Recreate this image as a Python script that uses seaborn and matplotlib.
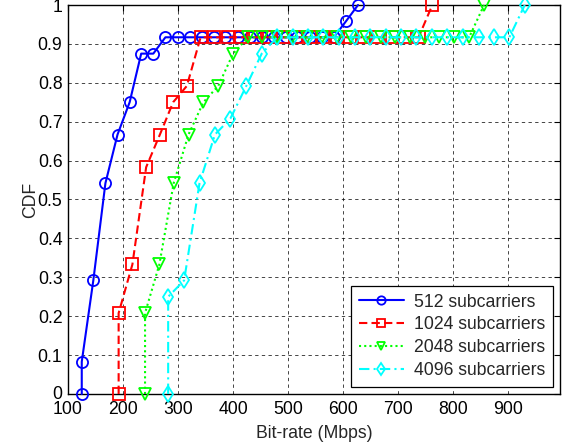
import matplotlib
matplotlib.use("Agg")
import matplotlib.pyplot as plt
import matplotlib.transforms as mtransforms
import seaborn as sns
import pandas as pd

sns.set_theme(style="white")
plt.rcParams['font.family'] = ['Liberation Sans', 'DejaVu Sans']

series_labels = ["512 subcarriers", "1024 subcarriers", "2048 subcarriers", "4096 subcarriers"]

x_512 = [125, 125, 146, 168, 190, 212, 233, 255, 277, 299, 321, 343, 365, 386, 408,
         430, 452, 474, 496, 517, 539, 561, 583, 605, 627]
y_512 = [0, 0.083, 0.292, 0.542, 0.667, 0.75, 0.875, 0.875, 0.917, 0.917, 0.917, 0.917,
         0.917, 0.917, 0.917, 0.917, 0.917, 0.917, 0.917, 0.917, 0.917, 0.917, 0.917,
         0.958, 1.0]

x_1024 = [192, 192, 217, 242, 267, 291, 316, 341, 366, 390, 415, 440, 465, 490, 514,
          539, 564, 589, 613, 638, 663, 688, 712, 737, 762]
y_1024 = [0, 0.208, 0.333, 0.583, 0.667, 0.75, 0.792, 0.917, 0.917, 0.917, 0.917, 0.917,
          0.917, 0.917, 0.917, 0.917, 0.917, 0.917, 0.917, 0.917, 0.917, 0.917, 0.917,
          0.917, 1.0]

x_2048 = [240, 240, 266, 292, 319, 346, 373, 400, 427, 453, 480, 507, 534, 561, 588,
          614, 641, 668, 695, 722, 749, 775, 802, 829, 856]
y_2048 = [0, 0.208, 0.333, 0.542, 0.667, 0.75, 0.792, 0.875, 0.917, 0.917, 0.917, 0.917,
          0.917, 0.917, 0.917, 0.917, 0.917, 0.917, 0.917, 0.917, 0.917, 0.917, 0.917,
          0.917, 1.0]

x_4096 = [282, 282, 311, 339, 367, 395, 424, 452, 480, 508, 536, 564, 592, 621, 649,
          677, 705, 733, 761, 789, 818, 846, 874, 902, 930]
y_4096 = [0, 0.25, 0.292, 0.542, 0.667, 0.708, 0.792, 0.875, 0.917, 0.917, 0.917, 0.917,
          0.917, 0.917, 0.917, 0.917, 0.917, 0.917, 0.917, 0.917, 0.917, 0.917, 0.917,
          0.917, 1.0]

x_ticks = [100, 200, 300, 400, 500, 600, 700, 800, 900]
y_ticks = [0, 0.1, 0.2, 0.3, 0.4, 0.5, 0.6, 0.7, 0.8, 0.9, 1]
y_tick_labels = ["0", "0.1", "0.2", "0.3", "0.4", "0.5", "0.6", "0.7", "0.8", "0.9", "1"]

xs = [x_512, x_1024, x_2048, x_4096]
ys = [y_512, y_1024, y_2048, y_4096]
colors = [(0, 0, 1), (1, 0, 0), (0, 1, 0), (0, 1, 1)]
markers = ["o", "s", "v", "d"]
styles = ["-", (0, (4, 2)), (0, (1, 1.5)), (0, (5, 2, 1, 2))]

FS = 12.7

fig = plt.figure(figsize=(5.74, 4.48), dpi=100)
ax = fig.add_axes([68 / 574, 1 - 394 / 448, (560 - 68) / 574, (394 - 5) / 448])

for lab, x, y, c, m, ls in zip(series_labels, xs, ys, colors, markers, styles):
    df = pd.DataFrame({"x": x, "y": y})
    sns.lineplot(data=df, x="x", y="y", ax=ax, estimator=None, sort=False,
                 color=c, marker=m, markersize=8, markerfacecolor="none",
                 markeredgecolor=c, markeredgewidth=1.3, linewidth=1.5,
                 linestyle=ls, label=lab, zorder=3, clip_on=False)

ax.set_xlim(100, 994)
ax.set_ylim(0, 1)
ax.set_xticks(x_ticks)
ax.set_xticklabels([str(t) for t in x_ticks])
ax.set_yticks(y_ticks)
ax.set_yticklabels(y_tick_labels)
ax.grid(True, color="black", linestyle=(0, (4, 4)), linewidth=0.6, alpha=0.85)
ax.set_axisbelow(True)
ax.tick_params(direction="in", length=4, width=0.8, top=True, right=True,
               labelsize=FS, colors="black")
ax.tick_params(axis="x", pad=5)
ax.tick_params(axis="y", pad=4)
# nudge the "0" y tick label up slightly so it does not collide with "100"
ylabels = ax.get_yticklabels()
ylabels[0].set_transform(ylabels[0].get_transform() +
                         mtransforms.ScaledTranslation(0, 2 / 100, fig.dpi_scale_trans))
for s in ax.spines.values():
    s.set_color("black")
    s.set_linewidth(1.0)
ax.set_xlabel("Bit-rate (Mbps)", fontsize=FS, labelpad=5)
ax.set_ylabel("CDF", fontsize=FS, labelpad=-1)

leg = ax.legend(loc="lower right", fontsize=FS, frameon=True, fancybox=False,
                edgecolor="black", handlelength=2.55, borderaxespad=0.4,
                labelspacing=0.33, borderpad=0.45, handletextpad=0.57,
                framealpha=1, markerscale=0.75)
leg.get_frame().set_linewidth(0.9)

fig.savefig("out.png", dpi=100)
